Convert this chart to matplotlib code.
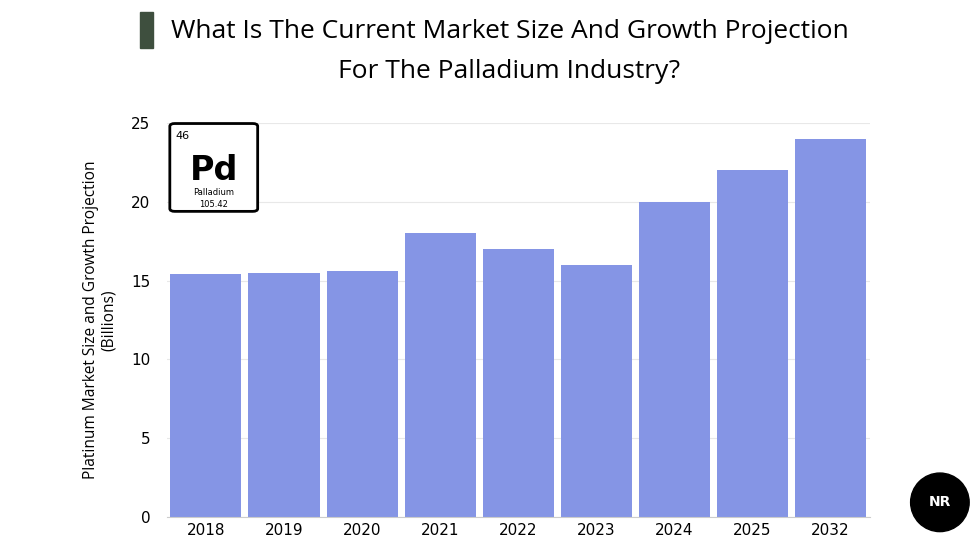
import matplotlib
matplotlib.use("Agg")
import matplotlib.pyplot as plt
from matplotlib.patches import FancyBboxPatch, Rectangle, Ellipse

years = ["2018", "2019", "2020", "2021", "2022", "2023", "2024", "2025", "2032"]
values = [15.4, 15.5, 15.6, 18.0, 17.0, 16.0, 20.0, 22.0, 24.0]
yticks = [0, 5, 10, 15, 20, 25]

fig = plt.figure(figsize=(9.76, 5.49), dpi=100)
ax = fig.add_axes([0.171, 0.058, 0.72, 0.718])
x = range(len(years))
ax.bar(x, values, width=0.91, color="#8595E5", zorder=2)
ax.set_xlim(-0.5, len(years) - 0.5)
ax.set_ylim(0, 25)
ax.set_yticks(yticks)
ax.set_xticks(list(x))
ax.set_xticklabels(years, fontsize=11)
ax.tick_params(axis="y", labelsize=11, length=0, pad=12)
ax.tick_params(axis="x", length=0, pad=4)
ax.grid(axis="y", color="#e8e8e8", lw=0.8, zorder=0)
for s in ax.spines.values():
    s.set_visible(False)
ax.spines["bottom"].set_visible(True)
ax.spines["bottom"].set_color("#cccccc")
ax.set_ylabel("Platinum Market Size and Growth Projection\n(Billions)", fontsize=11.2,
              labelpad=10, fontfamily="Open Sans")

fig.text(0.522, 0.942, "What Is The Current Market Size And Growth Projection",
         ha="center", va="center", fontsize=19, fontfamily="Open Sans")
fig.text(0.522, 0.870, "For The Palladium Industry?", ha="center", va="center",
         fontsize=19, fontfamily="Open Sans")
fig.patches.append(Rectangle((0.143, 0.913), 0.014, 0.065, transform=fig.transFigure,
                             color="#3e4f3e", figure=fig))

# Palladium element box
fig.patches.append(FancyBboxPatch((0.174, 0.615), 0.09, 0.16, boxstyle="round,pad=0,rounding_size=0.005",
                                  transform=fig.transFigure, fc="white", ec="black", lw=2, figure=fig))
fig.text(0.180, 0.752, "46", fontsize=8, va="center")
fig.text(0.219, 0.69, "Pd", fontsize=24, fontweight="bold", ha="center", va="center")
fig.text(0.219, 0.65, "Palladium", fontsize=6, ha="center", va="center")
fig.text(0.219, 0.628, "105.42", fontsize=6, ha="center", va="center")

# logo
fig.patches.append(Ellipse((0.963, 0.085), 0.06, 0.06 * 976 / 549, transform=fig.transFigure,
                           color="black", figure=fig))
fig.text(0.963, 0.085, "NR", color="white", fontsize=10, fontweight="bold", ha="center", va="center")

fig.savefig("out.png", dpi=100)
